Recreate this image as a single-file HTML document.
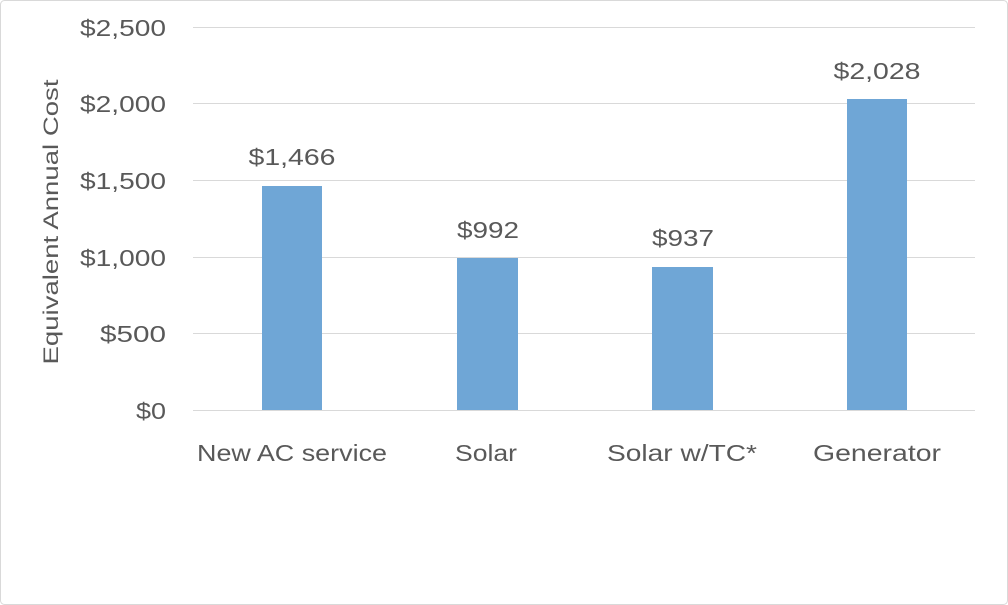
<!DOCTYPE html>
<html><head><style>
body{margin:0;background:#fff}
svg{display:block}
text{font-family:"Liberation Sans",sans-serif;fill:#595959}
</style></head><body>
<svg width="1008" height="605" viewBox="0 0 1008 605">
<rect x="0.5" y="0.5" width="1007" height="604" rx="4" fill="#fff" stroke="#d9d9d9"/>
<g stroke="#d9d9d9" stroke-width="1">
<line x1="193" y1="27.5" x2="975" y2="27.5"/>
<line x1="193" y1="103.5" x2="975" y2="103.5"/>
<line x1="193" y1="180.5" x2="975" y2="180.5"/>
<line x1="193" y1="257.5" x2="975" y2="257.5"/>
<line x1="193" y1="333.5" x2="975" y2="333.5"/>
<line x1="193" y1="410.5" x2="975" y2="410.5"/>
</g>
<g font-size="23" text-anchor="end" lengthAdjust="spacingAndGlyphs">
<text x="166" y="36" textLength="86" lengthAdjust="spacingAndGlyphs">$2,500</text>
<text x="166" y="112" textLength="86" lengthAdjust="spacingAndGlyphs">$2,000</text>
<text x="166" y="189" textLength="86" lengthAdjust="spacingAndGlyphs">$1,500</text>
<text x="166" y="266" textLength="86" lengthAdjust="spacingAndGlyphs">$1,000</text>
<text x="166" y="342" textLength="66" lengthAdjust="spacingAndGlyphs">$500</text>
<text x="166" y="419" textLength="30" lengthAdjust="spacingAndGlyphs">$0</text>
</g>
<text transform="translate(58,222) rotate(-90)" font-size="21" text-anchor="middle" textLength="285" lengthAdjust="spacingAndGlyphs">Equivalent Annual Cost</text>
<g fill="#6fa6d6">
<rect x="262" y="186" width="60" height="224"/>
<rect x="457" y="258" width="61" height="152"/>
<rect x="652" y="267" width="61" height="143"/>
<rect x="847" y="99" width="60" height="311"/>
</g>
<g font-size="23" text-anchor="middle">
<text x="292" y="165" textLength="87" lengthAdjust="spacingAndGlyphs">$1,466</text>
<text x="488" y="238" textLength="62" lengthAdjust="spacingAndGlyphs">$992</text>
<text x="683" y="246" textLength="62" lengthAdjust="spacingAndGlyphs">$937</text>
<text x="877" y="79" textLength="87" lengthAdjust="spacingAndGlyphs">$2,028</text>
</g>
<g font-size="23" text-anchor="middle">
<text x="292" y="461" textLength="190" lengthAdjust="spacingAndGlyphs">New AC service</text>
<text x="486" y="461" textLength="62" lengthAdjust="spacingAndGlyphs">Solar</text>
<text x="682" y="461" textLength="150" lengthAdjust="spacingAndGlyphs">Solar w/TC*</text>
<text x="877" y="461" textLength="128" lengthAdjust="spacingAndGlyphs">Generator</text>
</g>
</svg>
</body></html>
